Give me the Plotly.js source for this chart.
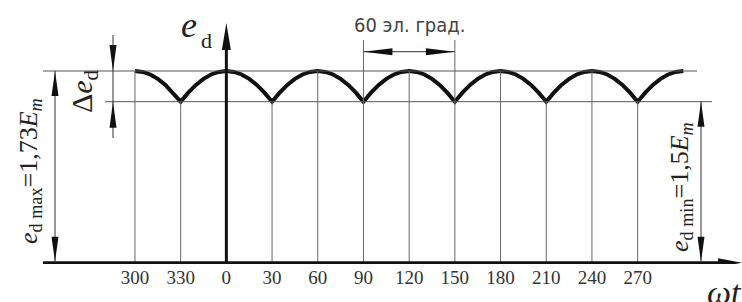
<!DOCTYPE html>
<html><head><meta charset="utf-8">
<script src="https://cdn.plot.ly/plotly-3.0.1.min.js"></script>
<style>html,body{margin:0;padding:0;background:#fff}#chart{width:742px;height:302px}</style>
</head><body><div id="chart"></div>
<script>
// ---- data ----
const angle = [
  -60,-55,-50,-45,-40,-35,-30,-25,-20,-15,-10,-5,
  0,5,10,15,20,25,30,35,40,45,50,55,
  60,65,70,75,80,85,90,95,100,105,110,115,
  120,125,130,135,140,145,150,155,160,165,170,175,
  180,185,190,195,200,205,210,215,220,225,230,235,
  240,245,250,255,260,265,270,275,280,285,290,295,
  300];
const ed = [
  1.73,1.723,1.704,1.671,1.626,1.568,1.50,1.568,1.626,1.671,1.704,1.723,
  1.73,1.723,1.704,1.671,1.626,1.568,1.50,1.568,1.626,1.671,1.704,1.723,
  1.73,1.723,1.704,1.671,1.626,1.568,1.50,1.568,1.626,1.671,1.704,1.723,
  1.73,1.723,1.704,1.671,1.626,1.568,1.50,1.568,1.626,1.671,1.704,1.723,
  1.73,1.723,1.704,1.671,1.626,1.568,1.50,1.568,1.626,1.671,1.704,1.723,
  1.73,1.723,1.704,1.671,1.626,1.568,1.50,1.568,1.626,1.671,1.704,1.723,
  1.73];
const tickVals = [-60,-30,0,30,60,90,120,150,180,210,240,270];
const tickText = ['300','330','0','30','60','90','120','150','180','210','240','270'];
const edMax = 1.73;
const edMin = 1.5;
const dimFrom = 90;
const dimTo = 150;
const labelDim = '60 эл. град.';
const labelY = '<i>e</i>';
const labelYsub = 'd';
const labelDelta = 'Δ<i>e</i><sub>d</sub>';
const labelMax = '<i>e</i><sub>d max</sub>=1,73<i>E</i><sub><i>m</i></sub>';
const labelMin = '<i>e</i><sub>d min</sub>=1,5<i>E</i><sub><i>m</i></sub>';
const labelX = '<i>ωt</i>';

// ---- geometry (pixel helpers) ----
const W = 742, H = 302, MB = 38, PH = H - MB;
const xR = [-148.6, 338.5];
const pxX = W / (xR[1] - xR[0]);
const upp = (edMax - edMin) / (101.7 - 71);
const yHi = edMax + 71 * upp;
const yLo = yHi - PH * upp;
const X = px => xR[0] + px / pxX;
const Y = py => yHi - py * upp;
const xPx = x => (x - xR[0]) * pxX;
const yPx = y => (yHi - y) / upp;
const yAx = Y(262.7);

const shapes = [];
function line(x0, y0, x1, y1, w, c) {
  shapes.push({type:'line', xref:'x', yref:'y', x0, y0, x1, y1, line:{width:w, color:c}, layer:'above'});
}
function head(tx, ty, dir, len, hw, c) { // tx,ty in pixels
  let p;
  if (dir === 'up') p = [[tx,ty],[tx-hw,ty+len],[tx+hw,ty+len]];
  else if (dir === 'down') p = [[tx,ty],[tx-hw,ty-len],[tx+hw,ty-len]];
  else if (dir === 'left') p = [[tx,ty],[tx+len,ty-hw],[tx+len,ty+hw]];
  else p = [[tx,ty],[tx-len,ty-hw],[tx-len,ty+hw]];
  const path = 'M' + p.map(q => X(q[0]) + ',' + Y(q[1])).join('L') + 'Z';
  shapes.push({type:'path', xref:'x', yref:'y', path, fillcolor:c || '#111', line:{width:0}, layer:'above'});
}

const thin = '#555';
// horizontal reference lines
line(X(43), edMax, X(697), edMax, 1, thin);
line(X(105), edMin, X(712), edMin, 1, thin);
// vertical grid lines from axis to curve
tickVals.forEach(v => {
  if (v === 0) return;
  const top = (v === dimFrom || v === dimTo) ? Y(40) : ed[angle.indexOf(v)];
  line(v, yAx, v, top, 1, '#666');
});
// x axis with arrow
line(X(43), yAx, X(722), yAx, 3, '#111');
head(742, 262.7, 'right', 24, 4.5);
// y axis with arrow
line(0, yAx, 0, Y(46), 3, '#111');
head(xPx(0), 23, 'up', 27, 4.5);
// e_d max dimension
const xm = X(55);
line(xm, edMax, xm, yAx, 1, '#333');
head(55, yPx(edMax), 'up', 25, 3.5);
head(55, 261.7, 'down', 25, 3.5);
// e_d min dimension
const xn = X(701);
line(xn, edMin, xn, yAx, 1, '#333');
head(701, yPx(edMin), 'up', 25, 3.5);
head(701, 261.7, 'down', 25, 3.5);
// delta dimension
const xd = X(113);
line(xd, Y(35), xd, Y(138), 1, '#333');
head(113, yPx(edMax), 'down', 26, 3.5);
head(113, yPx(edMin), 'up', 26, 3.5);
// 60 deg dimension
const yd = Y(51.7);
line(dimFrom, yd, dimTo, yd, 1, '#333');
head(xPx(dimFrom), 51.7, 'left', 29, 3.5);
head(xPx(dimTo), 51.7, 'right', 29, 3.5);

const serif = 'Liberation Serif, Times New Roman, serif';
const txt = '#222';
const annotations = [
  {x:(dimFrom+dimTo)/2, y:Y(25), text:labelDim, font:{family:'DejaVu Sans Condensed, Liberation Sans Narrow, sans-serif', size:20, color:'#444'}},
  {x:X(189), y:Y(25), text:labelY, font:{family:serif, size:36, color:txt}},
  {x:X(206), y:Y(40), text:labelYsub, font:{family:serif, size:22, color:txt}},
  {x:X(84), y:Y(91), text:labelDelta, textangle:-90, font:{family:serif, size:30, color:txt}},
  {x:X(30), y:Y(171), text:labelMax, textangle:-90, font:{family:serif, size:26, color:txt}},
  {x:X(681), y:Y(187), text:labelMin, textangle:-90, font:{family:serif, size:26, color:txt}},
  {xref:'paper', yref:'paper', x:724/W, y:-(292 - PH)/PH, text:labelX, font:{family:serif, size:34, color:txt}}
].map(a => Object.assign({xref:'x', yref:'y', showarrow:false, xanchor:'center', yanchor:'middle'}, a));

const trace = {x:angle, y:ed, type:'scatter', mode:'lines', line:{color:'#111', width:4}, hoverinfo:'skip'};

const layout = {
  width:W, height:H, margin:{l:0, r:0, t:0, b:MB},
  paper_bgcolor:'#fff', plot_bgcolor:'#fff', showlegend:false,
  xaxis:{range:xR, showgrid:false, zeroline:false, showline:false, ticks:'',
         tickmode:'array', tickvals:tickVals, ticktext:tickText,
         tickfont:{family:serif, size:19, color:'#333'}, fixedrange:true},
  yaxis:{range:[yLo, yHi], visible:false, fixedrange:true},
  shapes, annotations
};
Plotly.newPlot('chart', [trace], layout, {staticPlot:true, displayModeBar:false});
</script></body></html>
